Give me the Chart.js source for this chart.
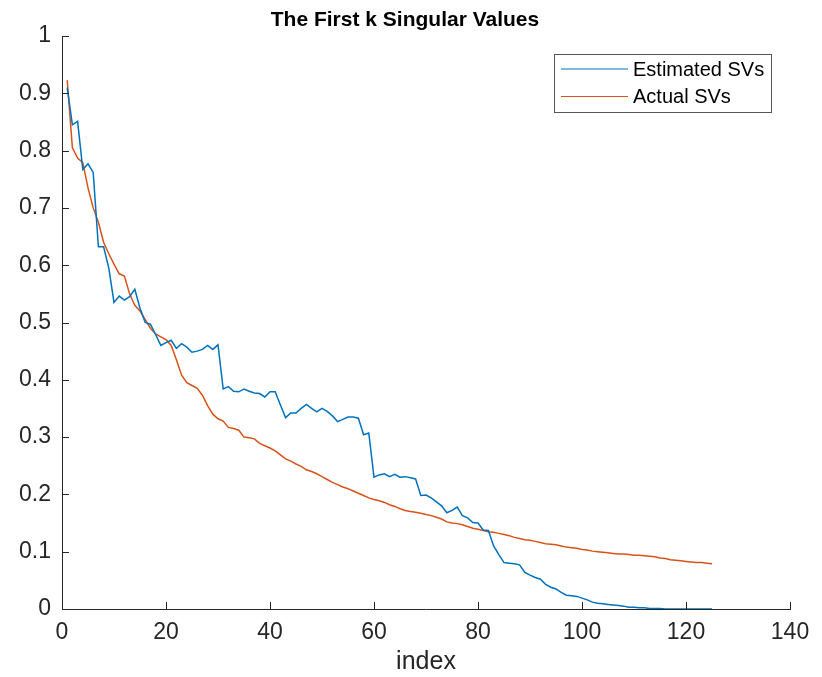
<!DOCTYPE html>
<html>
<head>
<meta charset="utf-8">
<script src="https://cdn.jsdelivr.net/npm/chart.js@4.4.1/dist/chart.umd.min.js"></script>
<style>
  html, body { margin: 0; padding: 0; background: #fff; }
  #wrap { width: 822px; height: 677px; }
</style>
</head>
<body>
<div id="wrap"><canvas id="svChart" width="822" height="677"></canvas></div>
<script>
// singular values, index 1..125
var estimatedSVs = [
  0.910, 0.845, 0.851, 0.767, 0.777, 0.762, 0.632, 0.632, 0.595, 0.535,
  0.546, 0.539, 0.545, 0.558, 0.525, 0.500, 0.497, 0.479, 0.460, 0.465,
  0.469, 0.455, 0.463, 0.457, 0.448, 0.450, 0.453, 0.460, 0.453, 0.461,
  0.384, 0.388, 0.380, 0.379, 0.384, 0.380, 0.377, 0.376, 0.370, 0.379,
  0.379, 0.356, 0.334, 0.342, 0.342, 0.350, 0.357, 0.350, 0.344, 0.350,
  0.345, 0.337, 0.327, 0.331, 0.335, 0.335, 0.333, 0.304, 0.307, 0.230,
  0.234, 0.236, 0.231, 0.235, 0.230, 0.231, 0.229, 0.227, 0.198, 0.199,
  0.194, 0.187, 0.180, 0.168, 0.172, 0.178, 0.163, 0.159, 0.151, 0.150,
  0.138, 0.137, 0.110, 0.095, 0.081, 0.080, 0.079, 0.077, 0.064, 0.059,
  0.055, 0.052, 0.043, 0.038, 0.035, 0.029, 0.024, 0.023, 0.022, 0.019,
  0.016, 0.012, 0.010, 0.009, 0.008, 0.007, 0.006, 0.005, 0.003, 0.003,
  0.002, 0.002, 0.001, 0.001, 0.001, 0.000, 0.000, 0.000, 0.000, 0.000,
  0.000, 0.000, 0.000, 0.000, 0.000
];
var actualSVs = [
  0.923, 0.805, 0.787, 0.779, 0.735, 0.700, 0.675, 0.640, 0.620, 0.602,
  0.585, 0.581, 0.550, 0.530, 0.520, 0.505, 0.490, 0.480, 0.475, 0.470,
  0.460, 0.435, 0.408, 0.395, 0.390, 0.385, 0.373, 0.355, 0.340, 0.332,
  0.328, 0.317, 0.315, 0.312, 0.300, 0.299, 0.297, 0.289, 0.285, 0.281,
  0.276, 0.269, 0.262, 0.258, 0.253, 0.249, 0.243, 0.240, 0.236, 0.231,
  0.226, 0.221, 0.217, 0.213, 0.210, 0.206, 0.202, 0.198, 0.194, 0.191,
  0.189, 0.186, 0.182, 0.179, 0.175, 0.172, 0.170, 0.169, 0.167, 0.165,
  0.163, 0.160, 0.157, 0.152, 0.150, 0.149, 0.147, 0.144, 0.141, 0.139,
  0.137, 0.135, 0.134, 0.132, 0.130, 0.128, 0.125, 0.123, 0.121, 0.120,
  0.118, 0.116, 0.114, 0.113, 0.112, 0.110, 0.108, 0.107, 0.106, 0.104,
  0.103, 0.101, 0.100, 0.099, 0.098, 0.097, 0.096, 0.096, 0.095, 0.094,
  0.094, 0.093, 0.092, 0.091, 0.089, 0.088, 0.086, 0.085, 0.084, 0.083,
  0.082, 0.081, 0.081, 0.080, 0.079
];
var xTicks = [0, 20, 40, 60, 80, 100, 120, 140];
var yTicks = [0, 0.1, 0.2, 0.3, 0.4, 0.5, 0.6, 0.7, 0.8, 0.9, 1];

var chartTitle = 'The First k Singular Values';
var xLabel = 'index';
var seriesNames = ['Estimated SVs', 'Actual SVs'];
var seriesColors = ['#0072BD', '#D95319'];

var axisColor = '#262626';
var fontFamily = '"Liberation Sans", Arial, Helvetica, sans-serif';

Chart.defaults.elements.point.radius = 0;
Chart.defaults.font.family = fontFamily;

// pair up index with value
function toPoints(values){
  var pts = [];
  for(var i = 0; i < values.length; i++){
    pts.push({x: i + 1, y: values[i]});
  }
  return pts;
}

// inward tick marks, no box on top/right
var innerTicks = {
  id: 'innerTicks',
  afterDatasetsDraw: function(chart){
    var ctx = chart.ctx;
    var xs = chart.scales.x, ys = chart.scales.y;
    var area = chart.chartArea;
    var len = 7;
    ctx.save();
    ctx.strokeStyle = axisColor;
    ctx.lineWidth = 1;
    ctx.beginPath();
    xTicks.forEach(function(t){
      var px = Math.round(xs.getPixelForValue(t)) + 0.5;
      ctx.moveTo(px, area.bottom);
      ctx.lineTo(px, area.bottom - len);
    });
    yTicks.forEach(function(t){
      var py = Math.round(ys.getPixelForValue(t)) + 0.5;
      ctx.moveTo(area.left, py);
      ctx.lineTo(area.left + len, py);
    });
    ctx.stroke();
    ctx.restore();
  }
};

// title above the axes
var topTitle = {
  id: 'topTitle',
  afterDraw: function(chart){
    var ctx = chart.ctx;
    ctx.save();
    ctx.fillStyle = '#000';
    ctx.font = 'bold 21px ' + fontFamily;
    ctx.textAlign = 'center';
    ctx.textBaseline = 'alphabetic';
    ctx.fillText(chartTitle, 405, 26);
    ctx.restore();
  }
};

// boxed legend in the upper right of the axes
var boxLegend = {
  id: 'boxLegend',
  afterDraw: function(chart){
    var ctx = chart.ctx;
    var area = chart.chartArea;
    var right = area.right - 19, top = area.top + 18;
    var w = 217, h = 58;
    var left = right - w;
    ctx.save();
    ctx.fillStyle = '#fff';
    ctx.fillRect(left, top, w, h);
    ctx.strokeStyle = '#555';
    ctx.lineWidth = 1;
    ctx.strokeRect(Math.round(left) + 0.5, Math.round(top) + 0.5, w, h);
    ctx.font = '20px ' + fontFamily;
    ctx.textBaseline = 'middle';
    ctx.textAlign = 'left';
    chart.data.datasets.forEach(function(ds, i){
      var y = top + 15 + i * 27.5;
      ctx.strokeStyle = ds.borderColor;
      ctx.lineWidth = 1;
      ctx.beginPath();
      ctx.moveTo(left + 7, y);
      ctx.lineTo(left + 74, y);
      ctx.stroke();
      ctx.fillStyle = '#000';
      ctx.fillText(ds.label, left + 79, y + 1);
    });
    ctx.restore();
  }
};

var data = {
  datasets: [{
    label: seriesNames[0],
    borderColor: seriesColors[0],
    backgroundColor: seriesColors[0],
    borderWidth: 1.5,
    data: toPoints(estimatedSVs),
  },{
    label: seriesNames[1],
    borderColor: seriesColors[1],
    backgroundColor: seriesColors[1],
    borderWidth: 1.5,
    data: toPoints(actualSVs),
  }]
};

var config = {
  type: 'line',
  data: data,
  options: {
    responsive: false,
    animation: false,
    layout: { padding: { left: 0, right: 32, top: 36, bottom: 0 } },
    plugins: {
      legend: { display: false },
      title: { display: false },
      tooltip: { enabled: false }
    },
    scales: {
      x: {
        type: 'linear',
        min: 0, max: 140,
        afterBuildTicks: function(scale){
          scale.ticks = xTicks.map(function(v){ return {value: v}; });
        },
        grid: { display: false, drawTicks: false },
        border: { display: true, color: axisColor, width: 1 },
        ticks: {
          color: axisColor,
          font: { size: 23 },
          padding: 10,
          maxRotation: 0,
          callback: function(v){ return String(v); }
        },
        title: {
          display: true,
          text: xLabel,
          color: axisColor,
          font: { size: 25 },
          padding: { top: 0, bottom: 0 }
        },
        afterFit: function(scale){ scale.height = 68; }
      },
      y: {
        type: 'linear',
        min: 0, max: 1,
        afterBuildTicks: function(scale){
          scale.ticks = yTicks.map(function(v){ return {value: v}; });
        },
        grid: { display: false, drawTicks: false },
        border: { display: true, color: axisColor, width: 1 },
        ticks: {
          color: axisColor,
          font: { size: 23 },
          padding: 11,
          callback: function(v){ return String(Math.round(v * 10) / 10); }
        },
        afterFit: function(scale){ scale.width = 62; }
      }
    }
  },
  plugins: [innerTicks, topTitle, boxLegend]
};

var svChart = new Chart(document.getElementById('svChart'), config);
</script>
</body>
</html>
